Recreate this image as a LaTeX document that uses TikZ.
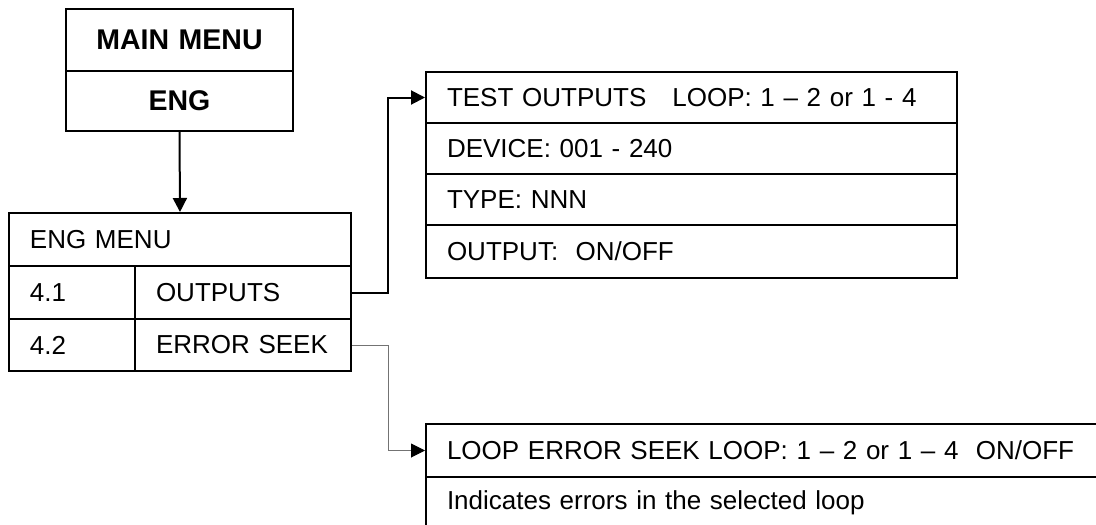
\documentclass[tikz,border=0pt]{standalone}
\usepackage{fontspec}
\setmainfont{Liberation Sans}
\usetikzlibrary{arrows.meta}
\begin{document}
\begin{tikzpicture}[x=1pt,y=-1pt,
  every node/.style={font=\fontsize{26}{30}\selectfont},
  cell/.style={draw=black, line width=2pt, rectangle, anchor=north west,
    inner xsep=21pt, inner ysep=0pt, align=left},
  ccell/.style={draw=black, line width=2pt, rectangle, anchor=north west,
    inner xsep=0pt, inner ysep=0pt, align=center, font=\fontsize{28.5}{32}\selectfont\bfseries},
  link/.style={line width=2pt, -{Triangle[length=14pt,width=14pt]}},
  thinlink/.style={line width=1pt, draw=black!55, -{Triangle[length=14pt,width=14pt,fill=black,color=black]}}
]
\useasboundingbox (0,0) rectangle (1096,525);
\clip (0,0) rectangle (1096,525);

% main menu
\node[ccell, text width=227pt, minimum height=62pt] (mm1) at (65,8) {MAIN MENU};
\node[ccell, text width=227pt, minimum height=60pt] (mm2) at (65,70) {ENG};

% eng menu
\node[cell, text width=300pt, minimum height=53pt] (eng) at (8,212) {ENG MENU};
\node[cell, text width=84pt, minimum height=53pt] (r1a) at (8,265) {4.1};
\node[cell, text width=174pt, minimum height=53pt] (r1b) at (134,265) {OUTPUTS};
\node[cell, text width=84pt, minimum height=52pt] (r2a) at (8,318) {4.2};
\node[cell, text width=174pt, minimum height=52pt] (r2b) at (134,318) {ERROR SEEK};

% test outputs
\node[cell, text width=489pt, minimum height=51pt] (t1) at (425,71) {TEST OUTPUTS\ \ \ LOOP: 1 -- 2 or 1 - 4};
\node[cell, text width=489pt, minimum height=51pt] (t2) at (425,122) {DEVICE: 001 - 240};
\node[cell, text width=489pt, minimum height=51pt] (t3) at (425,173) {TYPE: NNN};
\node[cell, text width=489pt, minimum height=53pt] (t4) at (425,224) {OUTPUT:\ \ ON/OFF};

% loop error seek
\node[cell, text width=658pt, minimum height=53pt] (b1) at (425,423) {LOOP ERROR SEEK LOOP: 1 -- 2 or 1 -- 4\ \ ON/OFF};
\node[cell, text width=658pt, minimum height=52pt] (b2) at (425,476) {Indicates errors in the selected loop};

% connectors
\draw[link] (mm2.south) -- (eng.north);
\coordinate (c1) at (388,0);
\draw[link] (r1b.east) -- (r1b.east -| c1) -- (t1.west -| c1) -- (t1.west);
\draw[thinlink] (r2b.east) -- (r2b.east -| c1) -- (b1.west -| c1) -- (b1.west);
\end{tikzpicture}
\end{document}
